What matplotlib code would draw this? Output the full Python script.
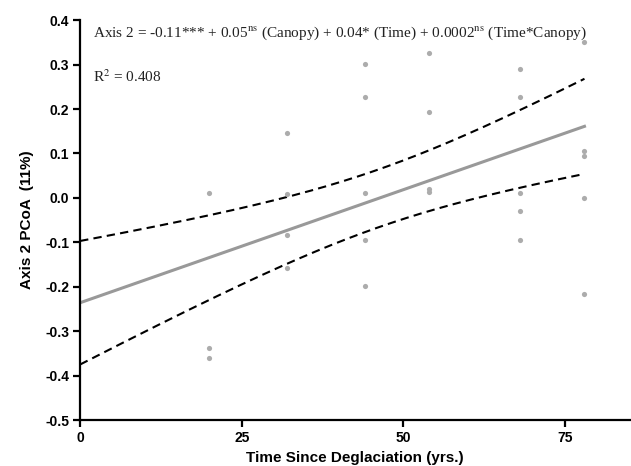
import matplotlib
matplotlib.use("Agg")
import matplotlib.pyplot as plt
import numpy as np

# sampled sites: time since deglaciation (yrs.) and PCoA axis 2 score
time_x = [20, 20, 20,
          32, 32, 32, 32,
          44, 44, 44, 44, 44,
          54, 54, 54, 54,
          68, 68, 68, 68, 68,
          78, 78, 78, 78, 78]
axis2_y = [0.011, -0.337, -0.360,
           0.147, 0.008, -0.083, -0.157,
           0.302, 0.227, 0.010, -0.094, -0.199,
           0.327, 0.193, 0.019, 0.013,
           0.290, 0.227, 0.010, -0.030, -0.094,
           0.351, 0.106, 0.094, 0.000, -0.217]

# fitted line and confidence band
fit_intercept = -0.236
fit_slope = 0.00509
band_center = 46.1
band_c = 0.002665
band_a = 596.0
fit_range = [0, 78]

x_ticks = [0, 25, 50, 75]
y_ticks = [0.4, 0.3, 0.2, 0.1, 0.0, -0.1, -0.2, -0.3, -0.4, -0.5]

plt.rcParams["mathtext.fontset"] = "stix"

fig = plt.figure(figsize=(6.31, 4.66), dpi=100)
ax = fig.add_axes([0.127, 0.0987, 0.871, 0.858])

ax.scatter(time_x, axis2_y, s=14, color="#acacac", zorder=3, linewidths=0)

xs = np.linspace(fit_range[0], fit_range[1], 200)
yhat = fit_intercept + fit_slope * xs
hw = band_c * np.sqrt(band_a + (xs - band_center) ** 2)
ax.plot(xs, yhat, color="#999999", lw=2.2, zorder=2)
ax.plot(xs, yhat + hw, color="black", lw=1.5, ls=(0, (4, 2.5)), zorder=2)
ax.plot(xs, yhat - hw, color="black", lw=1.5, ls=(0, (4, 2.5)), zorder=2)

ax.set_xlim(0, 85)
ax.set_ylim(-0.5, 0.4)
ax.set_xticks(x_ticks)
ax.set_yticks(y_ticks)
ax.set_yticklabels(["%.1f" % v for v in y_ticks])

for s in ["top", "right"]:
    ax.spines[s].set_visible(False)
for s in ["left", "bottom"]:
    ax.spines[s].set_linewidth(1.6)
ax.tick_params(direction="out", length=5, width=1.6, labelsize=10, pad=3)
for lab in ax.get_xticklabels() + ax.get_yticklabels():
    lab.set_fontweight("bold")
    lab.set_fontfamily("Liberation Sans")

ax.set_xlabel("Time Since Deglaciation (yrs.)", fontsize=11, fontweight="bold",
              family="Liberation Sans", labelpad=4)
ax.set_ylabel("Axis 2 PCoA  (11%)", fontsize=11, fontweight="bold",
              family="Liberation Sans", labelpad=8)

ax.text(0.024, 0.99,
        r"Axis 2 = -0.11*** + 0.05$^{\mathrm{ns}}$ (Canopy) + 0.04* (Time) + 0.0002$^{\mathrm{ns}}$ (Time*Canopy)",
        transform=ax.transAxes, fontsize=11, family="Liberation Serif",
        color="#222222", va="top", ha="left")
ax.text(0.024, 0.88, r"R$^{2}$ = 0.408", transform=ax.transAxes, fontsize=11,
        family="Liberation Serif", color="#222222", va="top", ha="left")

fig.savefig("out.png", dpi=100)
